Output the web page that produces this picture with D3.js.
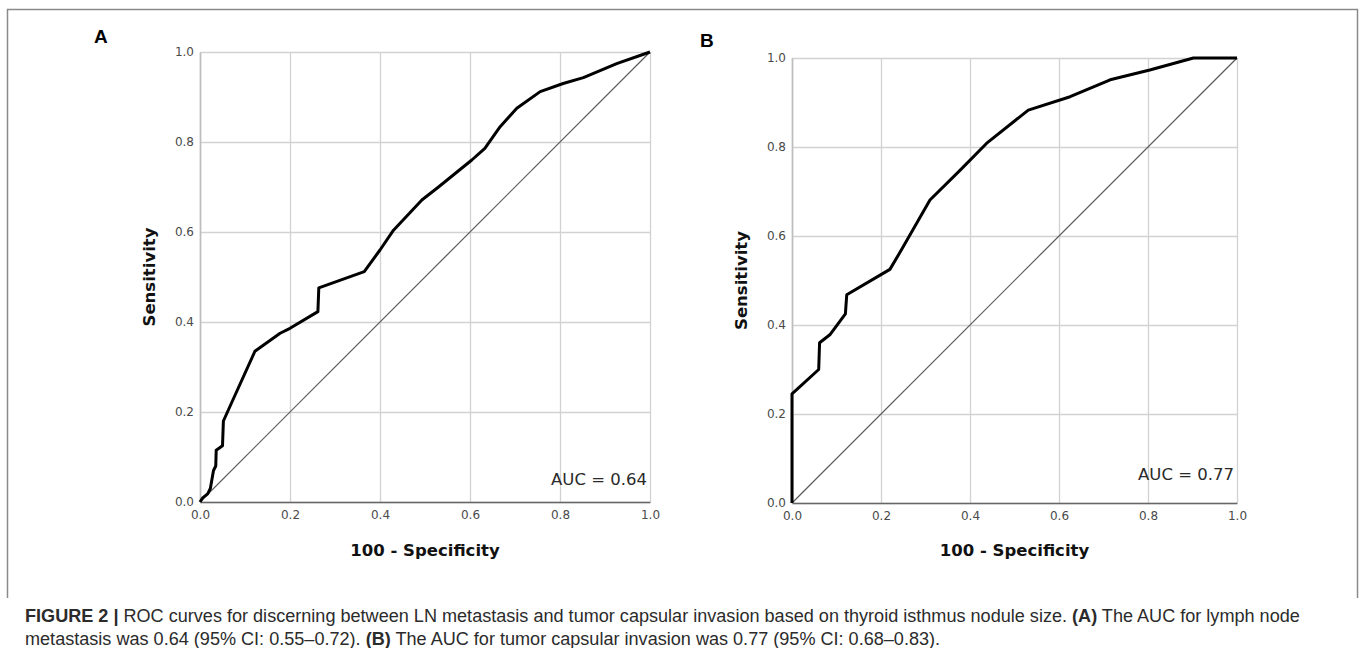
<!DOCTYPE html>
<html>
<head>
<meta charset="utf-8">
<script src="https://cdn.jsdelivr.net/npm/d3@7"></script>
<style>
  body { margin: 0; background: #fff; }
  svg { display: block; }
</style>
</head>
<body>
<div id="chart"></div>
<script>
// ROC curve A (lymph node metastasis)
const rocA_fpr = [0, 0.006, 0.017, 0.023, 0.03, 0.035, 0.036, 0.05, 0.052, 0.07, 0.122, 0.178, 0.2, 0.262, 0.264, 0.365, 0.4, 0.43, 0.493, 0.53, 0.604, 0.633, 0.667, 0.704, 0.756, 0.807, 0.852, 0.926, 1];
const rocA_tpr = [0, 0.009, 0.018, 0.03, 0.07, 0.08, 0.115, 0.125, 0.18, 0.22, 0.335, 0.375, 0.386, 0.423, 0.476, 0.512, 0.56, 0.604, 0.671, 0.70, 0.76, 0.786, 0.834, 0.875, 0.912, 0.93, 0.943, 0.974, 1];

// ROC curve B (tumor capsular invasion)
const rocB_fpr = [0, 0, 0.06, 0.062, 0.085, 0.12, 0.123, 0.198, 0.22, 0.246, 0.31, 0.378, 0.437, 0.531, 0.625, 0.715, 0.804, 0.902, 1];
const rocB_tpr = [0, 0.245, 0.3, 0.36, 0.378, 0.425, 0.468, 0.512, 0.525, 0.569, 0.681, 0.748, 0.808, 0.883, 0.913, 0.951, 0.973, 1, 1];

const tickValues = [0, 0.2, 0.4, 0.6, 0.8, 1.0];
const diagonal = [0, 1];
const panelLetters = ["A", "B"];
const aucLabels = ["AUC = 0.64", "AUC = 0.77"];
const xTitle = "100 - Specificity";
const yTitle = "Sensitivity";

const W = 1359, H = 648;

const svg = d3.select("#chart").append("svg")
  .attr("width", W)
  .attr("height", H);

// Figure frame (top, left, right)
svg.append("path")
  .attr("d", `M7.5,598 V9.5 H1357.5 V598`)
  .attr("fill", "none")
  .attr("stroke", "#8a8a8a")
  .attr("stroke-width", 1.5);

// Panel layout
const panels = [
  { letter: panelLetters[0], auc: aucLabels[0], fpr: rocA_fpr, tpr: rocA_tpr,
    left: 200, top: 52, size: 450, letterX: 94, letterY: 43, aucY: 485 },
  { letter: panelLetters[1], auc: aucLabels[1], fpr: rocB_fpr, tpr: rocB_tpr,
    left: 792, top: 58, size: 445, letterX: 700, letterY: 47, aucY: 480 }
];

panels.forEach(p => drawPanel(p));

function drawPanel(p) {
  const g = svg.append("g").attr("transform", `translate(${p.left},${p.top})`);
  const w = p.size, h = p.size;

  const x = d3.scaleLinear().domain([0, 1]).range([0, w]);
  const y = d3.scaleLinear().domain([0, 1]).range([h, 0]);

  // Gridlines
  g.append("g")
    .attr("class", "grid")
    .attr("transform", `translate(0,${h})`)
    .call(d3.axisBottom(x).tickValues(tickValues).tickSize(-h).tickFormat(""))
    .call(s => s.select(".domain").remove())
    .selectAll("line").attr("stroke", "#d2d2d2").attr("stroke-width", 1.3);

  g.append("g")
    .attr("class", "grid")
    .call(d3.axisLeft(y).tickValues(tickValues).tickSize(-w).tickFormat(""))
    .call(s => s.select(".domain").remove())
    .selectAll("line").attr("stroke", "#d2d2d2").attr("stroke-width", 1.3);

  // Axes with labels
  const xAxis = g.append("g")
    .attr("transform", `translate(0,${h})`)
    .call(d3.axisBottom(x).tickValues(tickValues).tickSize(0).tickPadding(8).tickFormat(d3.format(".1f")));
  xAxis.select(".domain").attr("stroke", "#666").attr("stroke-width", 1.6);

  const yAxis = g.append("g")
    .call(d3.axisLeft(y).tickValues(tickValues).tickSize(0).tickPadding(6).tickFormat(d3.format(".1f")));
  yAxis.select(".domain").attr("stroke", "#bdbdbd").attr("stroke-width", 1.6);

  g.selectAll(".tick text")
    .attr("font-family", "DejaVu Sans")
    .attr("font-size", 12)
    .attr("fill", "#4a4a4a");

  // Reference diagonal
  g.append("line")
    .attr("x1", x(diagonal[0])).attr("y1", y(diagonal[0]))
    .attr("x2", x(diagonal[1])).attr("y2", y(diagonal[1]))
    .attr("stroke", "#5a5a5a")
    .attr("stroke-width", 1.2);

  // ROC curve
  const pts = p.fpr.map((v, i) => [v, p.tpr[i]]);
  g.append("path")
    .datum(pts)
    .attr("fill", "none")
    .attr("stroke", "#000")
    .attr("stroke-width", 3)
    .attr("stroke-linejoin", "round")
    .attr("d", d3.line().x(d => x(d[0])).y(d => y(d[1])));

  // AUC label
  svg.append("text")
    .attr("x", p.left + w - 3)
    .attr("y", p.aucY)
    .attr("text-anchor", "end")
    .attr("font-family", "DejaVu Sans")
    .attr("font-size", 16.5)
    .attr("fill", "#2a2a2a")
    .text(p.auc);

  // Axis titles
  svg.append("text")
    .attr("x", p.left + w / 2)
    .attr("y", 556)
    .attr("text-anchor", "middle")
    .attr("font-family", "DejaVu Sans")
    .attr("font-weight", "bold")
    .attr("font-size", 16.5)
    .attr("fill", "#111")
    .text(xTitle);

  svg.append("text")
    .attr("transform", `translate(${p.left - 45},${p.top + h / 2}) rotate(-90)`)
    .attr("text-anchor", "middle")
    .attr("font-family", "DejaVu Sans")
    .attr("font-weight", "bold")
    .attr("font-size", 16.5)
    .attr("fill", "#111")
    .text(yTitle);

  // Panel letter
  svg.append("text")
    .attr("x", p.letterX)
    .attr("y", p.letterY)
    .attr("font-family", "Liberation Sans")
    .attr("font-weight", "bold")
    .attr("font-size", 19)
    .attr("fill", "#000")
    .text(p.letter);
}

// Caption
const captionLines = [
  [["FIGURE 2 | ", true], ["ROC curves for discerning between LN metastasis and tumor capsular invasion based on thyroid isthmus nodule size. ", false], ["(A)", true], [" The AUC for lymph node", false]],
  [["metastasis was 0.64 (95% CI: 0.55–0.72). ", false], ["(B)", true], [" The AUC for tumor capsular invasion was 0.77 (95% CI: 0.68–0.83).", false]]
];
const captionY = [622, 645];

const captionTexts = captionLines.map((line, i) => {
  const t = svg.append("text")
    .attr("x", 25)
    .attr("y", captionY[i])
    .attr("font-family", "Liberation Sans")
    .attr("font-size", 16)
    .attr("fill", "#2b2b2b");
  line.forEach(([s, b]) => {
    t.append("tspan").attr("font-weight", b ? "bold" : "normal").text(s);
  });
  return t;
});

// fit first caption line to the figure width
const len = captionTexts[0].node().getComputedTextLength();
const fs = 16 * 1275 / len;
captionTexts.forEach(t => t.attr("font-size", fs));
</script>
</body>
</html>
